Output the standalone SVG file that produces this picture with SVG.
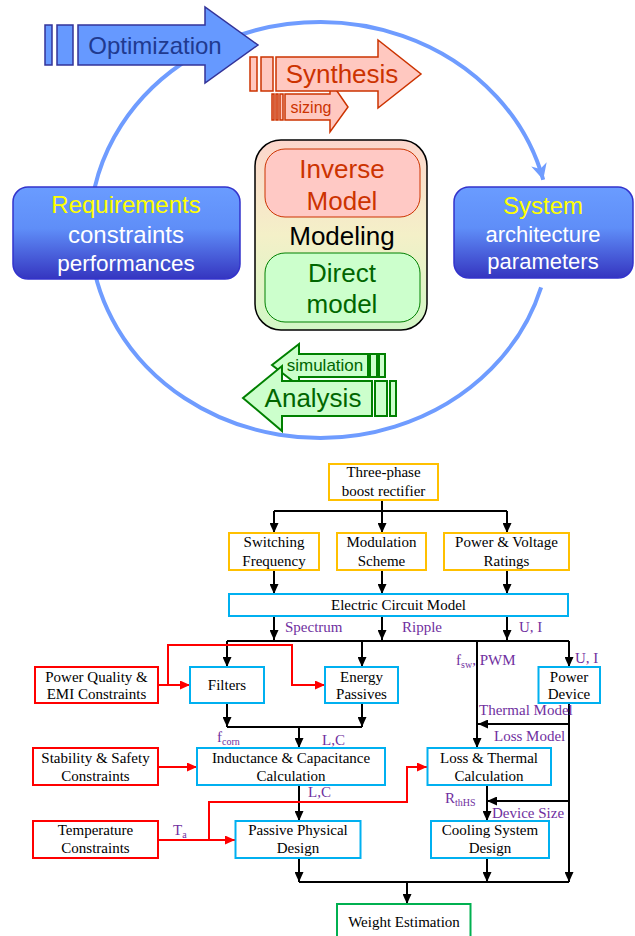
<svg xmlns="http://www.w3.org/2000/svg" width="635" height="936" viewBox="0 0 635 936">
<style>
.sans{font-family:"Liberation Sans",Arial,sans-serif;text-anchor:middle}
.serif{font-family:"Liberation Serif","Times New Roman",serif;font-size:15px;fill:#000;text-anchor:middle}
.lbl{font-family:"Liberation Serif","Times New Roman",serif;font-size:15px;fill:#7030a0}
.sub{font-size:10px}
.ob{fill:#fff;stroke:#ffc000;stroke-width:2}
.cb{fill:#fff;stroke:#00b0f0;stroke-width:2}
.rb{fill:#fff;stroke:#ff0000;stroke-width:2}
.gb{fill:#fff;stroke:#00b050;stroke-width:2}
.ln{fill:none;stroke:#000;stroke-width:2}
.rl{fill:none;stroke:#ff0000;stroke-width:2}
.blue{fill:#6699ff;stroke:#333399;stroke-width:1.5}
.red{fill:#ffc8c0;stroke:#cc3300;stroke-width:1.5}
.grn{fill:#ccffcc;stroke:#008000;stroke-width:2}
.big{fill:url(#bg);stroke:#3333cc;stroke-width:1.5}
</style>
<defs>
<linearGradient id="bg" x1="0" y1="0" x2="0" y2="1">
<stop offset="0" stop-color="#6a9cff"/>
<stop offset="0.45" stop-color="#5f8ef8"/>
<stop offset="1" stop-color="#3535c0"/>
</linearGradient>
<linearGradient id="mg" x1="0" y1="0" x2="0" y2="1">
<stop offset="0" stop-color="#fcd6cc"/>
<stop offset="0.5" stop-color="#f4f0c8"/>
<stop offset="1" stop-color="#d2f7c6"/>
</linearGradient>
<marker id="ca" markerUnits="userSpaceOnUse" markerWidth="20" markerHeight="20" refX="16" refY="8" orient="auto" viewBox="0 0 20 16">
<path d="M16,8 L0,0 L5,8 L0,16 Z" fill="#6f9cff"/>
</marker>
<marker id="ah" markerUnits="userSpaceOnUse" markerWidth="10" markerHeight="9" refX="10" refY="4.5" orient="auto" viewBox="0 0 10 9">
<path d="M0,0 L10,4.5 L0,9 Z" fill="#000"/>
</marker>
<marker id="rh" markerUnits="userSpaceOnUse" markerWidth="10" markerHeight="9" refX="10" refY="4.5" orient="auto" viewBox="0 0 10 9">
<path d="M0,0 L10,4.5 L0,9 Z" fill="#ff0000"/>
</marker>
</defs>
<rect width="635" height="936" fill="#fff"/>

<!-- top cycle -->
<g id="cycle">
<path d="M541.1 287.3 A230 208 0 1 1 543.2 179.7" fill="none" stroke="#6f9cff" stroke-width="4" marker-end="url(#ca)"/>
</g>

<g id="requirements">
<rect class="big" x="13" y="187" width="227" height="92" rx="15"/>
<text class="sans" x="126" y="213" font-size="24" fill="#ffff00">Requirements</text>
<text class="sans" x="126" y="243" font-size="24" fill="#fff">constraints</text>
<text class="sans" x="126" y="271" font-size="22.5" fill="#fff">performances</text>
</g>

<g id="system">
<rect class="big" x="454" y="187" width="179" height="91" rx="15"/>
<text class="sans" x="543" y="214" font-size="24" fill="#ffff00">System</text>
<text class="sans" x="543" y="242" font-size="22" fill="#fff">architecture</text>
<text class="sans" x="543" y="269" font-size="22" fill="#fff">parameters</text>
</g>

<g id="modeling">
<rect x="255" y="140" width="172" height="190" rx="26" fill="url(#mg)" stroke="#000" stroke-width="1.5"/>
<rect x="265" y="149" width="155" height="68" rx="20" fill="#ffc9c5" stroke="#cc3300" stroke-width="1"/>
<rect x="265" y="253" width="155" height="69" rx="20" fill="#ccffcc" stroke="#008000" stroke-width="1"/>
<text class="sans" x="342" y="178" font-size="26" fill="#cc3300">Inverse</text>
<text class="sans" x="342" y="210" font-size="26" fill="#cc3300">Model</text>
<text class="sans" x="342" y="245" font-size="26" fill="#000">Modeling</text>
<text class="sans" x="342" y="282" font-size="26" fill="#006600">Direct</text>
<text class="sans" x="342" y="313" font-size="26" fill="#006600">model</text>
</g>

<g id="optimization">
<rect class="blue" x="45" y="25" width="7" height="40"/>
<rect class="blue" x="57" y="25" width="16" height="40"/>
<polygon class="blue" points="78,25 205,25 205,7 258,45 205,83 205,65 78,65"/>
<text class="sans" x="155" y="54" font-size="24" fill="#203a8f">Optimization</text>
</g>

<g id="sizing">
<rect class="red" x="272" y="94" width="2" height="26"/>
<rect class="red" x="276" y="94" width="2" height="26"/>
<rect class="red" x="280" y="94" width="3" height="26"/>
<polygon class="red" points="285,94 330,94 330,81 348,107 330,132 330,120 285,120"/>
<text class="sans" x="311" y="113" font-size="16" fill="#cc3300">sizing</text>
</g>

<g id="synthesis">
<rect class="red" x="250" y="57" width="7" height="34"/>
<rect class="red" x="261" y="57" width="12" height="34"/>
<polygon class="red" points="276,57 378,57 378,40 421,74 378,108 378,91 276,91"/>
<text class="sans" x="342" y="83" font-size="26" fill="#cc3300">Synthesis</text>
</g>

<g id="simulation">
<rect class="grn" x="370" y="354" width="7" height="23"/>
<rect class="grn" x="379" y="354" width="6" height="23"/>
<polygon class="grn" points="272,365 299,344 299,354 368,354 368,377 299,377 299,386"/>
<text class="sans" x="325" y="371" font-size="17" fill="#006600">simulation</text>
</g>

<g id="analysis">
<rect class="grn" x="375" y="381" width="12" height="35"/>
<rect class="grn" x="390" y="381" width="6" height="35"/>
<polygon class="grn" points="243,398 282,366 282,381 372,381 372,416 282,416 282,431"/>
<text class="sans" x="313" y="407" font-size="26" fill="#006600">Analysis</text>
</g>

<!-- flowchart connectors -->
<g id="connectors">
<path class="ln" d="M382 500 V511 M274 511 H507"/>
<path class="ln" d="M274 511 V533" marker-end="url(#ah)"/>
<path class="ln" d="M382 511 V533" marker-end="url(#ah)"/>
<path class="ln" d="M507 511 V533" marker-end="url(#ah)"/>
<path class="ln" d="M274 570 V594" marker-end="url(#ah)"/>
<path class="ln" d="M382 570 V594" marker-end="url(#ah)"/>
<path class="ln" d="M507 570 V594" marker-end="url(#ah)"/>
<path class="ln" d="M274 616 V640" marker-end="url(#ah)"/>
<path class="ln" d="M382 616 V640" marker-end="url(#ah)"/>
<path class="ln" d="M507 616 V640" marker-end="url(#ah)"/>
<path class="ln" d="M227 641 H569"/>
<path class="ln" d="M227 641 V667" marker-end="url(#ah)"/>
<path class="ln" d="M362 641 V667" marker-end="url(#ah)"/>
<path class="ln" d="M477 641 V748" marker-end="url(#ah)"/>
<path class="ln" d="M569 641 V667" marker-end="url(#ah)"/>
<path class="ln" d="M227 703 V727" marker-end="url(#ah)"/>
<path class="ln" d="M362 703 V727" marker-end="url(#ah)"/>
<path class="ln" d="M227 727 H362"/>
<path class="ln" d="M299 727 V748" marker-end="url(#ah)"/>
<path class="ln" d="M569 703 V882" marker-end="url(#ah)"/>
<path class="ln" d="M569 724 H478" marker-end="url(#ah)"/>
<path class="ln" d="M569 801 H487" marker-end="url(#ah)"/>
<path class="ln" d="M299 785 V821" marker-end="url(#ah)"/>
<path class="ln" d="M487 785 V821" marker-end="url(#ah)"/>
<path class="ln" d="M299 858 V882" marker-end="url(#ah)"/>
<path class="ln" d="M487 858 V882" marker-end="url(#ah)"/>
<path class="ln" d="M299 882 H569"/>
<path class="ln" d="M407 882 V904" marker-end="url(#ah)"/>
<path class="rl" d="M158 685 H190" marker-end="url(#rh)"/>
<path class="rl" d="M168 685 V645 H292 V685 H325" marker-end="url(#rh)"/>
<path class="rl" d="M158 767 H197" marker-end="url(#rh)"/>
<path class="rl" d="M158 840 H235" marker-end="url(#rh)"/>
<path class="rl" d="M209 840 V802 H407 V767 H427" marker-end="url(#rh)"/>
</g>

<g id="labels">
<text class="lbl" x="285" y="632">Spectrum</text>
<text class="lbl" x="402" y="632">Ripple</text>
<text class="lbl" x="519" y="632">U, I</text>
<text class="lbl" x="456" y="665">f<tspan class="sub" dy="3">sw</tspan><tspan dy="-3">, PWM</tspan></text>
<text class="lbl" x="575" y="663">U, I</text>
<text class="lbl" x="479" y="715">Thermal Model</text>
<text class="lbl" x="494" y="741">Loss Model</text>
<text class="lbl" x="217" y="742">f<tspan class="sub" dy="3">corn</tspan></text>
<text class="lbl" x="322" y="745">L,C</text>
<text class="lbl" x="308" y="797">L,C</text>
<text class="lbl" x="445" y="803">R<tspan class="sub" dy="3">thHS</tspan></text>
<text class="lbl" x="492" y="818">Device Size</text>
<text class="lbl" x="173" y="835">T<tspan class="sub" dy="3">a</tspan></text>
</g>

<g id="three-phase">
<rect class="ob" x="329" y="464" width="109" height="36"/>
<text class="serif" x="383.5" y="477">Three-phase</text>
<text class="serif" x="383.5" y="496">boost rectifier</text>
</g>
<g id="switching">
<rect class="ob" x="229" y="533" width="90" height="37"/>
<text class="serif" x="274" y="547">Switching</text>
<text class="serif" x="274" y="566">Frequency</text>
</g>
<g id="modulation">
<rect class="ob" x="337" y="533" width="89" height="37"/>
<text class="serif" x="381.5" y="547">Modulation</text>
<text class="serif" x="381.5" y="566">Scheme</text>
</g>
<g id="ratings">
<rect class="ob" x="444" y="533" width="125" height="37"/>
<text class="serif" x="506.5" y="547">Power &amp; Voltage</text>
<text class="serif" x="506.5" y="566">Ratings</text>
</g>
<g id="circuit">
<rect class="cb" x="229" y="594" width="339" height="22"/>
<text class="serif" x="398.5" y="610">Electric Circuit Model</text>
</g>
<g id="power-quality">
<rect class="rb" x="35" y="667" width="123" height="36"/>
<text class="serif" x="96.5" y="682">Power Quality &amp;</text>
<text class="serif" x="96.5" y="699">EMI Constraints</text>
</g>
<g id="filters">
<rect class="cb" x="190" y="667" width="74" height="36"/>
<text class="serif" x="227" y="690">Filters</text>
</g>
<g id="energy">
<rect class="cb" x="325" y="667" width="73" height="36"/>
<text class="serif" x="361.5" y="682">Energy</text>
<text class="serif" x="361.5" y="699">Passives</text>
</g>
<g id="power-device">
<rect class="cb" x="538.5" y="667" width="61.5" height="36"/>
<text class="serif" x="569" y="682">Power</text>
<text class="serif" x="569" y="699">Device</text>
</g>
<g id="stability">
<rect class="rb" x="33" y="748" width="125" height="37"/>
<text class="serif" x="95.5" y="763">Stability &amp; Safety</text>
<text class="serif" x="95.5" y="781">Constraints</text>
</g>
<g id="lc-calc">
<rect class="cb" x="197" y="748" width="188" height="37"/>
<text class="serif" x="291" y="763">Inductance &amp; Capacitance</text>
<text class="serif" x="291" y="781">Calculation</text>
</g>
<g id="loss-thermal">
<rect class="cb" x="427.5" y="748" width="123.5" height="37"/>
<text class="serif" x="489" y="763">Loss &amp; Thermal</text>
<text class="serif" x="489" y="781">Calculation</text>
</g>
<g id="temperature">
<rect class="rb" x="33" y="821" width="125" height="37"/>
<text class="serif" x="95.5" y="835">Temperature</text>
<text class="serif" x="95.5" y="853">Constraints</text>
</g>
<g id="passive-design">
<rect class="cb" x="235.5" y="821" width="125" height="37"/>
<text class="serif" x="298" y="835">Passive Physical</text>
<text class="serif" x="298" y="853">Design</text>
</g>
<g id="cooling">
<rect class="cb" x="431" y="821" width="118" height="37"/>
<text class="serif" x="490" y="835">Cooling System</text>
<text class="serif" x="490" y="853">Design</text>
</g>
<g id="weight">
<rect class="gb" x="337" y="904" width="133.5" height="40"/>
<text class="serif" x="404" y="927">Weight Estimation</text>
</g>
</svg>
